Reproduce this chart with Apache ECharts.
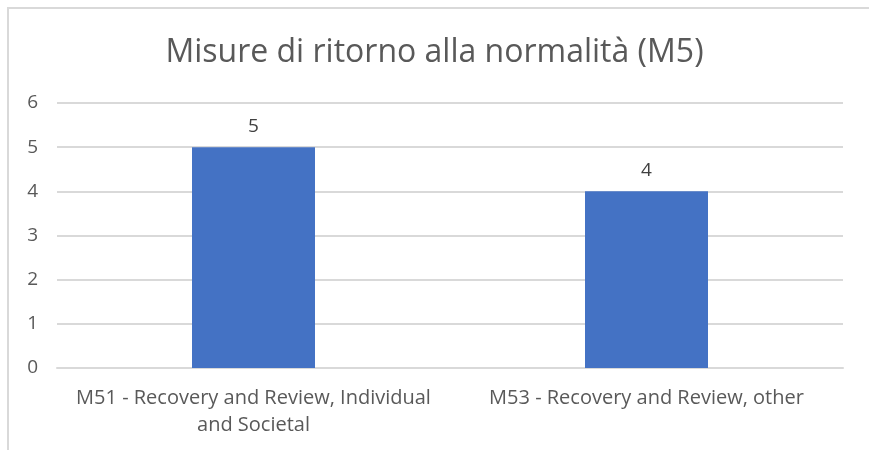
<!DOCTYPE html>
<html>
<head>
<meta charset="utf-8">
<script src="https://cdn.jsdelivr.net/npm/echarts@6/dist/echarts.min.js"></script>
<style>
  body { margin: 0; background: #fff; }
  #frame { position: absolute; left: 7px; top: 7px; width: 900px; height: 500px; border: 2px solid #d9d9d9; }
  #chart { position: absolute; left: 0; top: 0; width: 869px; height: 450px; }
</style>
</head>
<body>
<div id="frame"></div>
<div id="chart"></div>
<script>
const FONT = '"Open Sans", "Noto Sans", sans-serif'

const categories = [
  'M51 - Recovery and Review, Individual\nand Societal',
  'M53 - Recovery and Review, other',
]
const values = [5, 4]

const chart = echarts.init(document.getElementById('chart'))

chart.setOption({
  backgroundColor: 'transparent',
  animation: false,
  title: {
    text: 'Misure di ritorno alla normalità (M5)',
    left: 'center',
    top: 32,
    textStyle: { color: '#595959', fontSize: 32, fontWeight: 'normal', fontFamily: FONT },
  },
  grid: { left: 57, right: 26, top: 103, bottom: 82 },
  xAxis: {
    type: 'category',
    data: categories,
    axisLine: { lineStyle: { color: '#d9d9d9', width: 2 } },
    axisTick: { show: false },
    axisLabel: {
      color: '#595959',
      fontSize: 20,
      fontFamily: FONT,
      lineHeight: 27,
      margin: 17,
      interval: 0,
    },
  },
  yAxis: {
    type: 'value',
    min: 0,
    max: 6,
    interval: 1,
    axisLine: { show: false },
    axisTick: { show: false },
    axisLabel: { color: '#595959', fontSize: 19, fontFamily: FONT, margin: 19 },
    splitLine: { lineStyle: { color: '#d9d9d9', width: 2 } },
  },
  series: [
    {
      type: 'bar',
      data: values,
      barWidth: 123,
      itemStyle: { color: '#4472c4' },
      label: {
        show: true,
        position: 'top',
        distance: 11,
        color: '#404040',
        fontSize: 19,
        fontFamily: FONT,
      },
    },
  ],
})
</script>
</body>
</html>
